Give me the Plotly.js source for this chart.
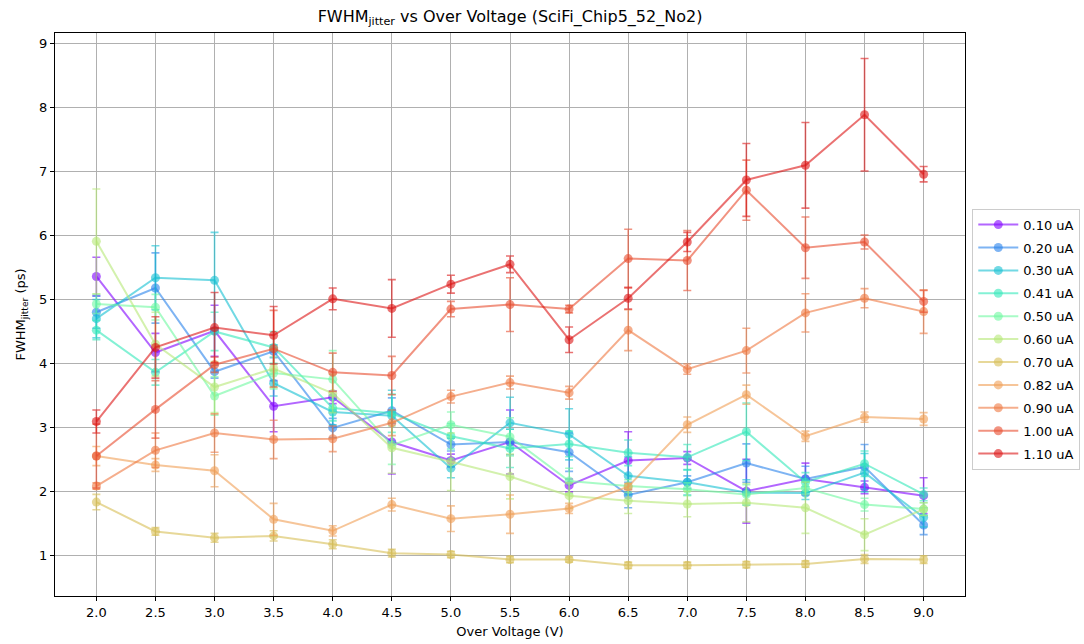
<!DOCTYPE html>
<html>
<head>
<meta charset="utf-8">
<script src="https://cdn.plot.ly/plotly-3.0.1.min.js"></script>
<style>html,body{margin:0;padding:0;background:#fff;}#chart{width:1084px;height:644px;}</style>
</head>
<body>
<div id="chart"></div>
<script>
const overVoltage = [2.0, 2.5, 3.0, 3.5, 4.0, 4.5, 5.0, 5.5, 6.0, 6.5, 7.0, 7.5, 8.0, 8.5, 9.0];
const currentLabels = ["0.10 uA","0.20 uA","0.30 uA","0.41 uA","0.50 uA","0.60 uA","0.70 uA","0.82 uA","0.90 uA","1.00 uA","1.10 uA"];

const fwhm_010 = [5.36, 4.17, 4.51, 3.33, 3.47, 2.77, 2.48, 2.77, 2.09, 2.48, 2.52, 2.00, 2.19, 2.06, 1.93];
const fwhm_020 = [4.80, 5.18, 3.87, 4.19, 2.99, 3.26, 2.73, 2.77, 2.61, 1.94, 2.14, 2.44, 2.19, 2.38, 1.47];
const fwhm_030 = [4.70, 5.34, 5.30, 3.69, 3.24, 3.18, 2.36, 3.07, 2.89, 2.24, 2.14, 1.98, 1.97, 2.29, 1.59];
const fwhm_041 = [4.52, 3.86, 4.50, 4.25, 3.30, 3.22, 2.86, 2.67, 2.74, 2.60, 2.53, 2.93, 2.14, 2.43, 1.95];
const fwhm_050 = [4.93, 4.88, 3.49, 3.85, 3.75, 2.72, 3.04, 2.85, 2.16, 2.08, 2.03, 1.95, 2.05, 1.79, 1.72];
const fwhm_060 = [5.91, 4.30, 3.63, 3.92, 3.53, 2.68, 2.46, 2.23, 1.93, 1.85, 1.80, 1.82, 1.74, 1.32, 1.72];
const fwhm_070 = [1.83, 1.37, 1.27, 1.30, 1.17, 1.03, 1.01, 0.93, 0.93, 0.84, 0.84, 0.85, 0.86, 0.94, 0.93];
const fwhm_082 = [2.55, 2.41, 2.32, 1.56, 1.38, 1.79, 1.57, 1.64, 1.73, 2.07, 3.04, 3.51, 2.86, 3.16, 3.13];
const fwhm_090 = [2.08, 2.64, 2.91, 2.81, 2.82, 3.07, 3.48, 3.70, 3.54, 4.52, 3.91, 4.20, 4.79, 5.02, 4.81];
const fwhm_100 = [2.55, 3.28, 3.98, 4.23, 3.86, 3.81, 4.85, 4.92, 4.85, 5.64, 5.61, 6.71, 5.81, 5.90, 4.97];
const fwhm_110 = [3.09, 4.25, 4.56, 4.44, 5.01, 4.86, 5.24, 5.55, 4.37, 5.02, 5.90, 6.87, 7.10, 7.89, 6.96];

const err_010 = [0.30, 0.30, 0.40, 0.40, 0.10, 0.50, 0.10, 0.50, 0.10, 0.45, 0.10, 0.50, 0.25, 0.10, 0.28];
const err_020 = [0.25, 0.55, 0.10, 0.10, 0.15, 0.20, 0.10, 0.20, 0.30, 0.20, 0.10, 0.30, 0.20, 0.35, 0.15];
const err_030 = [0.30, 0.50, 0.75, 0.20, 0.20, 0.40, 0.15, 0.40, 0.40, 0.30, 0.20, 0.20, 0.10, 0.30, 0.15];
const err_041 = [0.15, 0.20, 0.30, 0.25, 0.20, 0.30, 0.20, 0.30, 0.20, 0.20, 0.20, 0.45, 0.15, 0.20, 0.10];
const err_050 = [0.15, 0.20, 0.30, 0.25, 0.45, 0.30, 0.20, 0.30, 0.20, 0.10, 0.10, 0.15, 0.10, 0.10, 0.10];
const err_060 = [0.82, 0.50, 0.40, 0.30, 0.30, 0.40, 0.45, 0.35, 0.20, 0.20, 0.20, 0.30, 0.40, 0.25, 0.10];
const err_070 = [0.12, 0.06, 0.07, 0.08, 0.07, 0.06, 0.05, 0.05, 0.04, 0.05, 0.05, 0.05, 0.05, 0.07, 0.06];
const err_082 = [0.15, 0.10, 0.25, 0.25, 0.08, 0.10, 0.20, 0.30, 0.08, 0.05, 0.12, 0.15, 0.08, 0.08, 0.10];
const err_090 = [0.05, 0.27, 0.30, 0.30, 0.20, 0.20, 0.10, 0.10, 0.10, 0.32, 0.08, 0.35, 0.30, 0.15, 0.34];
const err_100 = [0.50, 0.45, 0.12, 0.60, 0.30, 0.30, 0.12, 0.42, 0.06, 0.46, 0.47, 0.47, 0.48, 0.11, 0.17];
const err_110 = [0.18, 0.48, 0.55, 0.45, 0.17, 0.45, 0.14, 0.13, 0.20, 0.17, 0.15, 0.57, 0.67, 0.88, 0.12];

const seriesValues = [fwhm_010, fwhm_020, fwhm_030, fwhm_041, fwhm_050, fwhm_060, fwhm_070, fwhm_082, fwhm_090, fwhm_100, fwhm_110];
const seriesErrors = [err_010, err_020, err_030, err_041, err_050, err_060, err_070, err_082, err_090, err_100, err_110];
const baseColors = [
  [128, 0, 255], [40, 130, 235], [20, 192, 210], [50, 232, 185], [110, 248, 160],
  [182, 232, 118], [215, 190, 85], [240, 158, 85], [238, 120, 65], [232, 75, 45], [220, 20, 20]
];

const alpha = 0.6;
const traces = seriesValues.map((vals, i) => {
  const c = baseColors[i];
  const col = `rgba(${c[0]},${c[1]},${c[2]},${alpha})`;
  return {
    type: 'scatter',
    mode: 'lines+markers',
    name: currentLabels[i],
    x: overVoltage,
    y: vals,
    error_y: {type: 'data', array: seriesErrors[i], visible: true, color: col, thickness: 1.6, width: 4},
    line: {color: col, width: 2},
    marker: {color: col, size: 9, line: {width: 0}},
    legendgroup: 'g' + i
  };
});

const layout = {
  width: 1084,
  height: 644,
  margin: {l: 55, r: 119, t: 33, b: 48, autoexpand: false},
  paper_bgcolor: '#ffffff',
  plot_bgcolor: '#ffffff',
  font: {family: 'DejaVu Sans, sans-serif', size: 13, color: '#000'},
  title: {
    text: 'FWHM<sub>jitter</sub> vs Over Voltage (SciFi_Chip5_52_No2)',
    font: {size: 16, color: '#000'},
    x: 0.4705, xanchor: 'center', y: 0.975, yanchor: 'middle'
  },
  xaxis: {
    title: {text: 'Over Voltage (V)', font: {size: 13}, standoff: 8},
    range: [1.65, 9.35],
    tickvals: overVoltage,
    ticktext: overVoltage.map(v => v.toFixed(1)),
    ticks: 'outside', ticklen: 4, tickwidth: 1, tickcolor: '#000',
    showgrid: true, gridcolor: '#b0b0b0', gridwidth: 1,
    showline: true, linecolor: '#000', linewidth: 1, mirror: true,
    zeroline: false, tickfont: {size: 13}
  },
  yaxis: {
    title: {text: 'FWHM<sub>jitter</sub> (ps)', font: {size: 13}, standoff: 10},
    range: [0.36, 9.17],
    tickvals: [1, 2, 3, 4, 5, 6, 7, 8, 9],
    ticks: 'outside', ticklen: 4, tickwidth: 1, tickcolor: '#000',
    showgrid: true, gridcolor: '#b0b0b0', gridwidth: 1,
    showline: true, linecolor: '#000', linewidth: 1, mirror: true,
    zeroline: false, tickfont: {size: 13}
  },
  legend: {
    x: 1.008, xanchor: 'left', y: 0.688, yanchor: 'top',
    bgcolor: '#ffffff', bordercolor: '#cccccc', borderwidth: 1,
    font: {size: 13}, tracegroupgap: 3, itemwidth: 40
  },
  showlegend: true
};

Plotly.newPlot('chart', traces, layout, {displayModeBar: false, staticPlot: true});
</script>
</body>
</html>
